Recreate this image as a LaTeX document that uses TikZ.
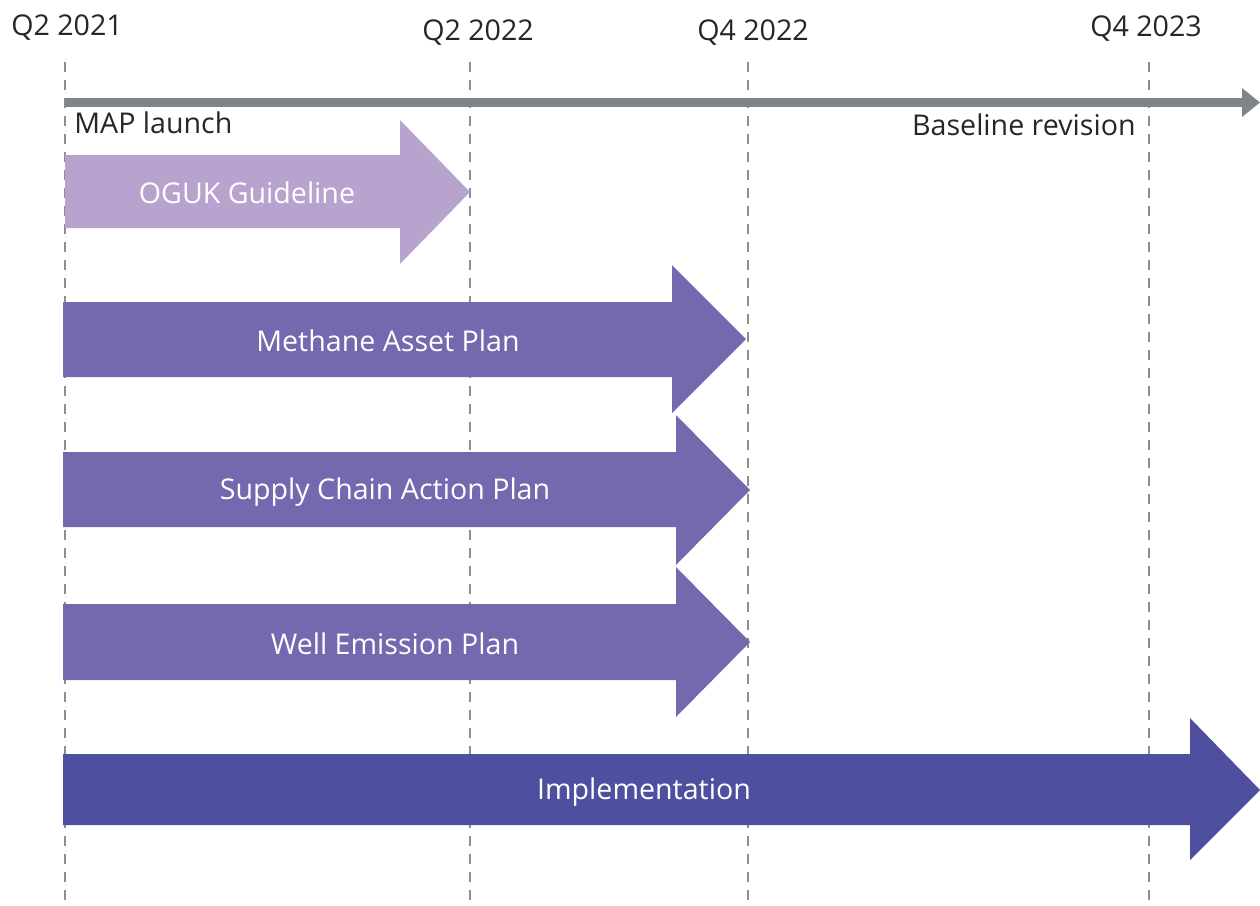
\documentclass[tikz,border=0pt]{standalone}
\usepackage{fontspec}
\setmainfont{Open Sans}
\usepackage{tikz}
\definecolor{axisgray}{HTML}{7F8588}
\definecolor{gridgray}{HTML}{8E8E8E}
\definecolor{lightplan}{HTML}{B8A3CE}
\definecolor{midplan}{HTML}{7568AE}
\definecolor{darkplan}{HTML}{4F4F9F}
\tikzset{
GRID/.style ={draw=gridgray,dash pattern=on 5pt off 4pt,line width=0.6pt},
AXIS/.style ={draw=axisgray,line width=4.5pt},
AXISHEAD/.style ={fill=axisgray,draw=none},
PLAN/.style={draw=none, fill=#1},
PLAN/.default = midplan,
DATE/.style ={text=black!85,font=\fontsize{14.3}{17}\selectfont,inner sep=0pt},
BAR/.style ={text=white,font=\fontsize{14.3}{17}\selectfont,inner sep=0pt},
}
\begin{document}
\begin{tikzpicture} [x=0.5pt, y=-0.5pt] %MAP timeline
	\useasboundingbox (0,0) rectangle (1260,906);
	% quarters
	\path[GRID] (65,62) -- (65,906);
	\path[GRID] (470,62) -- (470,906);
	\path[GRID] (748,62) -- (748,906);
	\path[GRID] (1149,62) -- (1149,906);
	\node[DATE] (q221) at (67,28) {Q2 2021};
	\node[DATE] (q222) at (478,33) {Q2 2022};
	\node[DATE] (q422) at (753,33) {Q4 2022};
	\node[DATE] (q423) at (1146,29) {Q4 2023};
	% time axis
	\path[AXIS] (65,102.5) -- (1244,102.5);
	\path[AXISHEAD] (1242,88) -- (1260,102.5) -- (1242,117) -- cycle;
	\node[DATE,anchor=west] (launch) at (74,123) {MAP launch};
	\node[DATE,anchor=east] (revision) at (1136,125) {Baseline revision};
	% plans
	\path[PLAN=lightplan] (65,155) -- (400,155) -- (400,120) -- (470,192) -- (400,264) -- (400,228) -- (65,228) -- cycle;
	\node[BAR] (oguk) at (247,193) {OGUK Guideline};
	\path[PLAN] (63,302) -- (672,302) -- (672,265) -- (746,339) -- (672,413) -- (672,377) -- (63,377) -- cycle;
	\node[BAR] (map) at (388,341) {Methane Asset Plan};
	\path[PLAN] (63,452) -- (676,452) -- (676,415) -- (750,490) -- (676,565) -- (676,527) -- (63,527) -- cycle;
	\node[BAR] (scap) at (385,492) {Supply Chain Action Plan};
	\path[PLAN] (63,604) -- (676,604) -- (676,567) -- (750,642) -- (676,717) -- (676,680) -- (63,680) -- cycle;
	\node[BAR] (wep) at (395,644) {Well Emission Plan};
	\path[PLAN=darkplan] (63,754) -- (1190,754) -- (1190,718) -- (1260,790) -- (1190,860) -- (1190,825) -- (63,825) -- cycle;
	\node[BAR] (impl) at (644,792) {Implementation};
\end{tikzpicture}
\end{document}
